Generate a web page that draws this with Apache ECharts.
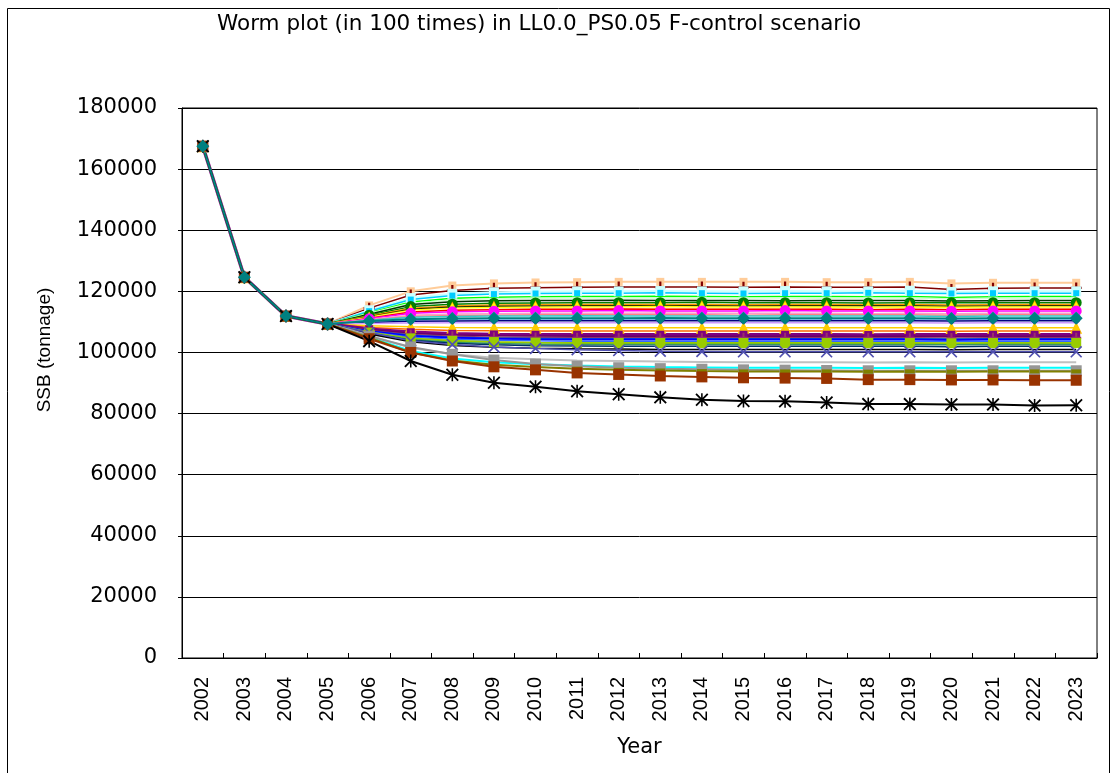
<!DOCTYPE html>
<html>
<head>
<meta charset="utf-8">
<script src="https://cdn.jsdelivr.net/npm/echarts@6/dist/echarts.min.js"></script>
<style>
html,body{margin:0;padding:0;background:#fff;}
#chart{width:1114px;height:773px;}
</style>
</head>
<body>
<div id="chart"></div>
<script>
// ---- data ----
const years = ['2002','2003','2004','2005','2006','2007','2008','2009','2010','2011','2012','2013','2014','2015','2016','2017','2018','2019','2020','2021','2022','2023'];
const yTicks = [0, 20000, 40000, 60000, 80000, 100000, 120000, 140000, 160000, 180000];
const titleText = 'Worm plot (in 100 times) in LL0.0_PS0.05 F-control scenario';
const yName = 'SSB (tonnage)';
const xName = 'Year';

const s01 = [167500,124600,111900,109300,115400,120000,121900,122600,122900,123000,123100,123100,123100,123100,123100,123000,123000,123100,122600,122800,122800,122800];
const s02 = [167500,124600,111900,109300,114500,118800,120300,121000,121200,121300,121400,121400,121400,121300,121400,121300,121300,121400,120600,121000,121100,121100];
const s03 = [167500,124600,111900,109300,113800,117800,119200,119700,119900,120000,120000,120100,120000,120000,120100,120000,120000,120200,119800,120000,120000,120000];
const s04 = [167500,124600,111900,109300,113500,117300,118600,119100,119300,119400,119400,119500,119400,119300,119400,119400,119500,119400,119300,119400,119400,119400];
const s05 = [167500,124600,111900,109300,113000,116500,117700,118100,118200,118300,118300,118400,118300,118200,118300,118300,118200,118300,118000,118200,118300,118300];
const s06 = [167500,124600,111900,109300,112800,116100,117200,117600,117700,117800,117800,117800,117900,117800,117800,117700,117800,117800,117600,117700,117800,117800];
const s07 = [167500,124600,111900,109300,112500,115700,116600,116900,117000,117000,117100,117000,117000,117000,116900,117000,117000,117000,116800,116900,117000,117000];
const s08 = [167500,124600,111900,109300,112200,115000,115800,116100,116200,116300,116300,116300,116400,116300,116300,116300,116200,116300,116300,116300,116300,116300];
const s09 = [167500,124600,111900,109300,111900,114500,115200,115500,115600,115700,115700,115700,115700,115600,115700,115700,115600,115700,115500,115600,115700,115700];
const s10 = [167500,124600,111900,109300,111700,114100,114900,115100,115200,115300,115300,115300,115300,115200,115300,115300,115300,115300,115100,115200,115300,115300];
const s11 = [167500,124600,111900,109300,111500,113800,114500,114700,114800,114900,114900,115000,114900,114900,114900,114900,114800,114900,114800,114900,114900,114900];
const s12 = [167500,124600,111900,109300,111300,113500,114100,114300,114400,114400,114500,114400,114400,114400,114400,114300,114400,114400,114300,114400,114400,114400];
const s13 = [167500,124600,111900,109300,111200,113200,113800,114000,114100,114100,114200,114100,114100,114100,114100,114100,114000,114100,114000,114100,114100,114100];
const s14 = [167500,124600,111900,109300,111000,112800,113300,113500,113600,113600,113700,113600,113600,113600,113700,113600,113600,113600,113500,113600,113600,113600];
const s15 = [167500,124600,111900,109300,110800,112200,112600,112700,112800,112800,112800,112900,112800,112800,112800,112800,112700,112800,112700,112800,112800,112800];
const s16 = [167500,124600,111900,109300,110600,111800,112100,112200,112300,112300,112300,112300,112300,112200,112300,112300,112300,112300,112200,112300,112300,112300];
const s17 = [167500,124600,111900,109300,110500,111500,111800,111900,111900,112000,111900,111900,111900,111900,111900,111900,111900,111900,111800,111900,111900,111900];
const s18 = [167500,124600,111900,109300,110100,110600,110800,110800,110900,110900,110900,110900,110800,110900,110900,110900,110800,110900,110800,110900,110900,110900];
const s19 = [167500,124600,111900,109300,109800,110200,110300,110400,110400,110400,110400,110400,110400,110400,110400,110400,110400,110400,110300,110400,110400,110400];
const s20 = [167500,124600,111900,109300,109500,109600,109700,109700,109700,109700,109700,109700,109700,109700,109700,109700,109700,109700,109600,109700,109700,109700];
const s21 = [167500,124600,111900,109300,108700,108400,108200,108100,108100,108100,108100,108100,108100,108100,108100,108100,108100,108100,108000,108100,108100,108100];
const s22 = [167500,124600,111900,109300,108200,107600,107200,107100,107000,107000,107000,107000,107000,107000,107000,107000,107000,107000,106900,107000,107000,107000];
const s23 = [167500,124600,111900,109300,107600,106600,106100,105900,105800,105800,105800,105800,105800,105800,105800,105800,105700,105800,105800,105800,105800,105800];
const s24 = [167500,124600,111900,109300,107400,106300,105700,105500,105400,105300,105300,105300,105300,105300,105300,105300,105300,105300,105200,105300,105300,105300];
const s25 = [167500,124600,111900,109300,107200,105900,105300,105000,104900,104800,104800,104800,104800,104800,104800,104800,104800,104800,104700,104800,104800,104800];
const s26 = [167500,124600,111900,109300,107000,105600,105000,104700,104600,104500,104500,104500,104500,104500,104500,104500,104500,104500,104400,104500,104500,104500];
const s27 = [167500,124600,111900,109300,106900,105400,104800,104500,104300,104200,104200,104200,104200,104200,104200,104200,104200,104200,104100,104200,104200,104200];
const s28 = [167500,124600,111900,109300,106700,105000,104300,104000,103800,103700,103700,103700,103700,103700,103700,103700,103700,103700,103600,103700,103700,103700];
const s29 = [167500,124600,111900,109300,106500,104600,103800,103400,103200,103100,103100,103100,103100,103100,103100,103100,103100,103100,103000,103100,103100,103100];
const s30 = [167500,124600,111900,109300,106300,104200,103300,102900,102700,102600,102600,102600,102600,102600,102600,102600,102600,102600,102500,102600,102600,102600];
const s31 = [167500,124600,111900,109300,106200,104000,103000,102500,102200,102100,102000,102000,102000,102000,102000,102000,102000,102000,101900,102000,102000,102000];
const s32 = [167500,124600,111900,109300,106000,103500,102300,101700,101400,101200,101100,101000,101000,101000,101000,101000,101000,101000,100900,101000,101000,101000];
const s33 = [167500,124600,111900,109300,106500,103800,102600,101800,101300,100900,100600,100400,100300,100200,100200,100200,100200,100200,100200,100200,100200,100200];
const s34 = [167500,124600,111900,109300,105600,101500,99400,98300,97800,97400,97200,97000,96900,96800,96800,96800,96700,96800,96700,96800,96800,96800];
const s35 = [167500,124600,111900,109300,105000,100500,98000,96800,96100,95700,95400,95200,95100,95000,95000,95000,94900,95000,94900,95000,95000,95000];
const s36 = [167500,124600,111900,109300,105300,101800,99400,97500,96200,95500,95000,94700,94500,94300,94200,94100,94000,94000,94000,94000,94000,94000];
const s37 = [167500,124600,111900,109300,104800,100000,97400,96000,95200,94700,94300,94100,93900,93800,93800,93800,93700,93800,93700,93800,93800,93800];
const s38 = [167500,124600,111900,109300,104500,100000,97200,95300,94300,93300,92800,92300,92000,91700,91600,91500,91100,91100,91000,91000,90900,90900];
const s39 = [167500,124600,111900,109300,103700,97200,92700,90100,88800,87300,86300,85300,84500,84100,84000,83600,83100,83100,83000,83000,82600,82700];
const s40 = [167500,124600,111900,109300,110300,110900,111100,111200,111200,111200,111200,111300,111200,111200,111200,111200,111200,111200,111100,111200,111200,111200];

const allSeries = [s01,s02,s03,s04,s05,s06,s07,s08,s09,s10,s11,s12,s13,s14,s15,s16,s17,s18,s19,s20,s21,s22,s23,s24,s25,s26,s27,s28,s29,s30,s31,s32,s33,s34,s35,s36,s37,s38,s39,s40];

// ---- styles ----
const PLUS = 'path://M4,0H6V4H10V6H6V10H4V6H0V4H4Z';
const XMARK = 'path://M0,1L1,0L5,4L9,0L10,1L6,5L10,9L9,10L5,6L1,10L0,9L4,5Z';
const AST = 'path://M0,1L1,0L5,4L9,0L10,1L6,5L10,9L9,10L5,6L1,10L0,9L4,5ZM4.4,0H5.6V10H4.4Z';
const styles = [
  {c:'#FFCC99', s:'rect', z:8, w:2},
  {c:'#800000', s:PLUS, z:11, w:1.5},
  {c:'#CCFFFF', s:'rect', z:10, w:2},
  {c:'#00CCFF', s:'rect', z:6, w:1.5},
  {c:'#00FF00', s:'none', z:0, w:1.5},
  {c:'#CCFFCC', s:'none', z:0, w:1.5},
  {c:'#003300', s:'none', z:0, w:1.5},
  {c:'#008000', s:'circle', z:11, w:1.5},
  {c:'#FF9900', s:'triangle', z:9, w:1.5},
  {c:'#333300', s:'none', z:0, w:1.5},
  {c:'#FFFF00', s:'triangle', z:11, w:1.5},
  {c:'#FFFF99', s:'none', z:0, w:1.5},
  {c:'#FF0000', s:'none', z:0, w:1.5},
  {c:'#FF00FF', s:'circle', z:11, w:1.5},
  {c:'#FF99CC', s:'none', z:0, w:1.5},
  {c:'#FF8080', s:'none', z:0, w:1.5},
  {c:'#33CCCC', s:'diamond', z:9, w:1.5},
  {c:'#99CCFF', s:'none', z:0, w:1.5},
  {c:'#000080', s:'diamond', z:8, w:1.5},
  {c:'#CC99FF', s:'none', z:0, w:1.5},
  {c:'#FFCC00', s:'triangle', z:12, w:1.5},
  {c:'#FF6600', s:'none', z:0, w:1.5},
  {c:'#800080', s:'rect', z:8, w:3.5},
  {c:'#660066', s:'none', z:0, w:1.5},
  {c:'#993366', s:PLUS, z:10, w:1.5},
  {c:'#0066CC', s:'none', z:0, w:1.5},
  {c:'#0000FF', s:'none', z:0, w:2},
  {c:'#3366FF', s:'none', z:0, w:1.5},
  {c:'#99CC00', s:'rect', z:10, w:2},
  {c:'#339966', s:'none', z:0, w:1.5},
  {c:'#003366', s:'none', z:0, w:1.5},
  {c:'#000000', s:'none', z:0, w:1.5},
  {c:'#5050B0', s:XMARK, z:12, w:1.5},
  {c:'#C0C0C0', s:'none', z:0, w:2},
  {c:'#00FFFF', s:'none', z:0, w:2},
  {c:'#969696', s:'rect', z:11, w:2},
  {c:'#808000', s:'rect', z:0, w:2, dash:true},
  {c:'#993300', s:'rect', z:11, w:2},
  {c:'#000000', s:AST, z:13, w:2},
  {c:'#008080', s:'diamond', z:13, w:2}
];

const chart = echarts.init(document.getElementById('chart'), null, {renderer:'canvas'});
const series = allSeries.map((vals, i) => {
  const st = styles[i];
  return {
    name: 'Run ' + (i + 1),
    type: 'line',
    data: vals,
    symbol: st.s,
    symbolSize: st.dash ? [10, 4] : st.z,
    showSymbol: st.s !== 'none',
    lineStyle: {color: st.c, width: st.w},
    itemStyle: {color: st.c},
    emphasis: {disabled: true},
    animation: false,
    silent: true
  };
});

chart.setOption({
  animation: false,
  backgroundColor: '#fff',
  title: {
    text: titleText,
    left: 212,
    top: 8,
    textStyle: {fontFamily: 'DejaVu Sans', fontSize: 21.5, fontWeight: 'normal', color: '#000'}
  },
  grid: {
    left: 182, right: 17, top: 108, bottom: 115,
    show: true, borderColor: '#000', borderWidth: 1, backgroundColor: 'transparent'
  },
  xAxis: {
    type: 'category',
    data: years,
    boundaryGap: true,
    name: xName,
    nameLocation: 'middle',
    nameGap: 79,
    nameTextStyle: {fontFamily: 'DejaVu Sans', fontSize: 21, color: '#000'},
    axisLine: {lineStyle: {color: '#000', width: 1}},
    axisTick: {show: true, inside: true, length: 5, interval: 0, lineStyle: {color: '#000'}},
    axisLabel: {rotate: 90, interval: 0, margin: 19, fontFamily: 'Liberation Sans', fontSize: 20, color: '#000'},
    splitLine: {show: false}
  },
  yAxis: {
    type: 'value',
    min: yTicks[0],
    max: yTicks[yTicks.length - 1],
    interval: yTicks[1] - yTicks[0],
    name: yName,
    nameLocation: 'middle',
    nameGap: 128,
    nameRotate: 90,
    nameTextStyle: {fontFamily: 'Liberation Sans', fontSize: 19, color: '#000', padding: [0, 0, 0, 66]},
    axisLine: {show: true, lineStyle: {color: '#000', width: 1}},
    axisTick: {show: true, inside: false, length: 4, lineStyle: {color: '#000'}},
    axisLabel: {margin: 25, fontFamily: 'DejaVu Sans', fontSize: 21, color: '#000', formatter: function (v) { return String(v); }},
    splitLine: {show: true, lineStyle: {color: '#000', width: 1}}
  },
  graphic: [{
    type: 'rect',
    shape: {x: 7.5, y: 8.5, width: 1102, height: 800},
    style: {fill: 'none', stroke: '#000', lineWidth: 1},
    silent: true,
    z: -1
  }],
  series: series
});
</script>
</body>
</html>
